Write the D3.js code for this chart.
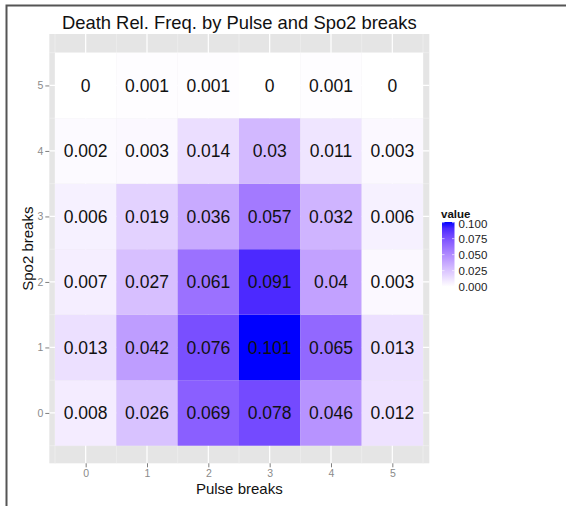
<!DOCTYPE html>
<html>
<head>
<meta charset="utf-8">
<script src="https://cdn.jsdelivr.net/npm/d3@7"></script>
<style>
  body { margin: 0; background: #fff; }
  text { font-family: "Liberation Sans", Arial, sans-serif; }
</style>
</head>
<body>
<div id="root"></div>
<script>
// pulse breaks (x) and spo2 breaks (y)
const pulseBreaks = [0, 1, 2, 3, 4, 5]
const spo2Breaks = [0, 1, 2, 3, 4, 5]

// relative frequency of death, one array per spo2 break, ordered by pulse break
const spo2_0 = [0.008, 0.026, 0.069, 0.078, 0.046, 0.012]
const spo2_1 = [0.013, 0.042, 0.076, 0.101, 0.065, 0.013]
const spo2_2 = [0.007, 0.027, 0.061, 0.091, 0.04, 0.003]
const spo2_3 = [0.006, 0.019, 0.036, 0.057, 0.032, 0.006]
const spo2_4 = [0.002, 0.003, 0.014, 0.03, 0.011, 0.003]
const spo2_5 = [0, 0.001, 0.001, 0, 0.001, 0]
const rows = [spo2_0, spo2_1, spo2_2, spo2_3, spo2_4, spo2_5]

const legendTicks = [0, 0.025, 0.05, 0.075, 0.1]

const data = []
rows.forEach((r, yi) => r.forEach((v, xi) => data.push({ x: pulseBreaks[xi], y: spo2Breaks[yi], value: v })))

const width = 566
const height = 506
const svg = d3.select('#root').append('svg').attr('width', width).attr('height', height)

// page frame (top and left edges only)
svg.append('path')
  .attr('d', 'M6.5,506V5.5H566')
  .attr('fill', 'none')
  .attr('stroke', '#555')
  .attr('stroke-width', 2)

const panel = { left: 49.3, right: 429.3, top: 34, bottom: 463.3 }

const x = d3.scaleLinear().domain([-0.5, 5.5]).range([55, 423])
const y = d3.scaleLinear().domain([-0.5, 5.5]).range([445.7, 52.7])
const color = d3.scaleLinear().domain([0, 0.101]).range(['white', 'blue'])
  .interpolate(d3.interpolateLab).clamp(true)

const g = svg.append('g')

g.append('rect')
  .attr('x', panel.left).attr('y', panel.top)
  .attr('width', panel.right - panel.left).attr('height', panel.bottom - panel.top)
  .attr('fill', '#e5e5e5')

// minor grid
const minor = d3.range(-0.5, 6, 1)
g.selectAll('.vminor').data(minor).enter().append('line')
  .attr('x1', d => x(d)).attr('x2', d => x(d))
  .attr('y1', panel.top).attr('y2', panel.bottom)
  .attr('stroke', '#f2f2f2').attr('stroke-width', 0.6)
g.selectAll('.hminor').data(minor).enter().append('line')
  .attr('y1', d => y(d)).attr('y2', d => y(d))
  .attr('x1', panel.left).attr('x2', panel.right)
  .attr('stroke', '#f2f2f2').attr('stroke-width', 0.6)

// major grid
g.selectAll('.vmajor').data(pulseBreaks).enter().append('line')
  .attr('x1', d => x(d)).attr('x2', d => x(d))
  .attr('y1', panel.top).attr('y2', panel.bottom)
  .attr('stroke', '#fff').attr('stroke-width', 1.2)
g.selectAll('.hmajor').data(spo2Breaks).enter().append('line')
  .attr('y1', d => y(d)).attr('y2', d => y(d))
  .attr('x1', panel.left).attr('x2', panel.right)
  .attr('stroke', '#fff').attr('stroke-width', 1.2)

// tiles
g.selectAll('.tile').data(data).enter().append('rect')
  .attr('x', d => x(d.x - 0.5))
  .attr('y', d => y(d.y + 0.5))
  .attr('width', d => x(d.x + 0.5) - x(d.x - 0.5))
  .attr('height', d => y(d.y - 0.5) - y(d.y + 0.5))
  .attr('fill', d => color(d.value))

g.selectAll('.lab').data(data).enter().append('text')
  .attr('x', d => x(d.x))
  .attr('y', d => y(d.y))
  .attr('dy', '0.36em')
  .attr('text-anchor', 'middle')
  .attr('font-size', 17.5)
  .attr('fill', '#111')
  .text(d => d3.format('')(d.value))

// axes
const xAxis = svg.append('g')
  .attr('transform', `translate(0,${panel.bottom})`)
  .call(d3.axisBottom(x).tickValues(pulseBreaks).tickSize(4).tickPadding(2).tickFormat(d3.format('d')))
xAxis.select('.domain').remove()
xAxis.selectAll('line').attr('stroke', '#7f7f7f')
xAxis.selectAll('text').attr('fill', '#8a8a8a').attr('font-size', 10.5)

const yAxis = svg.append('g')
  .attr('transform', `translate(${panel.left},0)`)
  .call(d3.axisLeft(y).tickValues(spo2Breaks).tickSize(4).tickPadding(2).tickFormat(d3.format('d')))
yAxis.select('.domain').remove()
yAxis.selectAll('line').attr('stroke', '#7f7f7f')
yAxis.selectAll('text').attr('fill', '#8a8a8a').attr('font-size', 10.5)

// title and axis labels
svg.append('text')
  .attr('x', (panel.left + panel.right) / 2).attr('y', 29)
  .attr('text-anchor', 'middle').attr('font-size', 18.4).attr('fill', '#111')
  .text('Death Rel. Freq. by Pulse and Spo2 breaks')

svg.append('text')
  .attr('x', (panel.left + panel.right) / 2).attr('y', 494)
  .attr('text-anchor', 'middle').attr('font-size', 15).attr('fill', '#111')
  .text('Pulse breaks')

svg.append('text')
  .attr('transform', `translate(33,${(panel.top + panel.bottom) / 2}) rotate(-90)`)
  .attr('text-anchor', 'middle').attr('font-size', 15).attr('fill', '#111')
  .text('Spo2 breaks')

// legend
const lg = svg.append('g')
const barTop = 222, barBottom = 286.7, barX = 442, barW = 12.5
const ly = d3.scaleLinear().domain([0, 0.101]).range([barBottom, barTop])

const defs = svg.append('defs')
const grad = defs.append('linearGradient').attr('id', 'lgrad')
  .attr('x1', 0).attr('x2', 0).attr('y1', 1).attr('y2', 0)
d3.range(0, 1.0001, 0.1).forEach(t => {
  grad.append('stop').attr('offset', t).attr('stop-color', color(t * 0.101))
})

lg.append('text')
  .attr('x', barX - 1).attr('y', barTop - 4)
  .attr('font-size', 11.5).attr('font-weight', 'bold').attr('fill', '#111')
  .text('value')

lg.append('rect')
  .attr('x', barX).attr('y', barTop)
  .attr('width', barW).attr('height', barBottom - barTop)
  .attr('fill', 'url(#lgrad)')

lg.selectAll('.lt').data(legendTicks).enter().append('g')
  .each(function (d) {
    const s = d3.select(this)
    s.append('line').attr('x1', barX).attr('x2', barX + 2.5)
      .attr('y1', ly(d)).attr('y2', ly(d)).attr('stroke', '#fff').attr('stroke-width', 0.6)
    s.append('line').attr('x1', barX + barW - 2.5).attr('x2', barX + barW)
      .attr('y1', ly(d)).attr('y2', ly(d)).attr('stroke', '#fff').attr('stroke-width', 0.6)
    s.append('text').attr('x', barX + barW + 4).attr('y', ly(d) + (d === 0.1 ? 1.5 : 0)).attr('dy', '0.36em')
      .attr('font-size', 11.5).attr('fill', '#222')
      .text(d3.format('.3f')(d))
  })
</script>
</body>
</html>
